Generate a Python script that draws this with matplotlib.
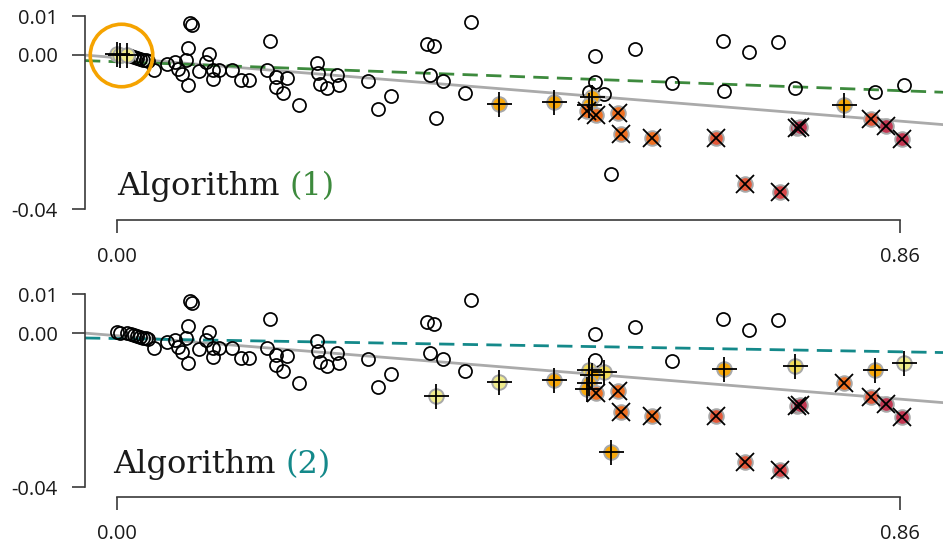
import matplotlib
matplotlib.use("Agg")
import matplotlib.pyplot as plt
import numpy as np

# ---------------- data ----------------
x_vals = [0.000, 0.003, 0.011, 0.015, 0.019, 0.022, 0.025, 0.029, 0.032, 0.034,
          0.041, 0.055, 0.064, 0.067, 0.071, 0.076, 0.078, 0.078, 0.080, 0.082,
          0.090, 0.098, 0.101, 0.106, 0.106, 0.112, 0.126, 0.136, 0.145, 0.165,
          0.168, 0.175, 0.187, 0.175, 0.182, 0.200, 0.220, 0.221, 0.223, 0.231,
          0.242, 0.244, 0.276, 0.287, 0.301, 0.341, 0.348, 0.344, 0.358, 0.351,
          0.382, 0.389, 0.420, 0.480, 0.525, 0.569, 0.519, 0.525, 0.535, 0.522,
          0.519, 0.517, 0.526, 0.550, 0.554, 0.543, 0.588, 0.610, 0.658, 0.666,
          0.667, 0.690, 0.695, 0.726, 0.729, 0.745, 0.747, 0.751, 0.799, 0.829,
          0.833, 0.845, 0.863, 0.865]
y_vals = [0.0003, 0.0000, 0.0000, -0.0003, -0.0005, -0.0008, -0.0010, -0.0013, -0.0013, -0.0016,
          -0.0039, -0.0023, -0.0018, -0.0036, -0.0049, -0.0013, 0.0018, -0.0078, 0.0083, 0.0078,
          -0.0042, -0.0018, 0.0003, -0.0039, -0.0062, -0.0039, -0.0039, -0.0065, -0.0065, -0.0039,
          0.0036, -0.0057, -0.0060, -0.0083, -0.0098, -0.0130, -0.0021, -0.0047, -0.0075, -0.0085,
          -0.0052, -0.0078, -0.0067, -0.0140, -0.0106, 0.0028, 0.0023, -0.0052, -0.0067, -0.0163,
          -0.0098, 0.0086, -0.0127, -0.0122, -0.0003, 0.0016, -0.0096, -0.0070, -0.0101, -0.0109,
          -0.0130, -0.0145, -0.0155, -0.0150, -0.0205, -0.0308, -0.0215, -0.0073, -0.0215, 0.0036,
          -0.0093, -0.0334, 0.0008, 0.0034, -0.0355, -0.0085, -0.0189, -0.0187, -0.0130, -0.0166,
          -0.0096, -0.0184, -0.0218, -0.0078]

# marker class per point: 'o' = not flagged, '+' / 'x' = flagged
marks_alg1 = ['+', '+', '+', 'o', 'o', 'o', 'o', 'o', 'o', 'o',
              'o', 'o', 'o', 'o', 'o', 'o', 'o', 'o', 'o', 'o',
              'o', 'o', 'o', 'o', 'o', 'o', 'o', 'o', 'o', 'o',
              'o', 'o', 'o', 'o', 'o', 'o', 'o', 'o', 'o', 'o',
              'o', 'o', 'o', 'o', 'o', 'o', 'o', 'o', 'o', 'o',
              'o', 'o', '+', '+', 'o', 'o', 'o', 'o', 'o', '+',
              '+', 'x', 'x', 'x', 'x', 'o', 'x', 'o', 'x', 'o',
              'o', 'x', 'o', 'o', 'x', 'o', 'x', 'x', '+', 'x',
              'o', 'x', 'x', 'o']
level_alg1 = [1, 1, 1, 0, 0, 0, 0, 0, 0, 0,
              0, 0, 0, 0, 0, 0, 0, 0, 0, 0,
              0, 0, 0, 0, 0, 0, 0, 0, 0, 0,
              0, 0, 0, 0, 0, 0, 0, 0, 0, 0,
              0, 0, 0, 0, 0, 0, 0, 0, 0, 0,
              0, 0, 3, 3, 0, 0, 0, 0, 0, 3,
              3, 4, 4, 4, 4, 0, 4, 0, 5, 0,
              0, 5, 0, 0, 6, 0, 7, 7, 3, 5,
              0, 7, 7, 0]
marks_alg2 = ['o', 'o', 'o', 'o', 'o', 'o', 'o', 'o', 'o', 'o',
              'o', 'o', 'o', 'o', 'o', 'o', 'o', 'o', 'o', 'o',
              'o', 'o', 'o', 'o', 'o', 'o', 'o', 'o', 'o', 'o',
              'o', 'o', 'o', 'o', 'o', 'o', 'o', 'o', 'o', 'o',
              'o', 'o', 'o', 'o', 'o', 'o', 'o', 'o', 'o', '+',
              'o', 'o', '+', '+', 'o', 'o', '+', 'o', '+', '+',
              '+', '+', 'x', 'x', 'x', '+', 'x', 'o', 'x', 'o',
              '+', 'x', 'o', 'o', 'x', '+', 'x', 'x', 'x', 'x',
              '+', 'x', 'x', '+']
level_alg2 = [0, 0, 0, 0, 0, 0, 0, 0, 0, 0,
              0, 0, 0, 0, 0, 0, 0, 0, 0, 0,
              0, 0, 0, 0, 0, 0, 0, 0, 0, 0,
              0, 0, 0, 0, 0, 0, 0, 0, 0, 0,
              0, 0, 0, 0, 0, 0, 0, 0, 0, 1,
              0, 0, 1, 3, 0, 0, 2, 0, 2, 3,
              3, 3, 4, 4, 4, 3, 4, 0, 5, 0,
              3, 5, 0, 0, 6, 2, 7, 7, 4, 5,
              3, 7, 7, 1]

# fitted lines (intercept, slope)
fit_all = (-0.0007, -0.0191)
fit_alg1 = (-0.00176, -0.0087)
fit_alg2 = (-0.00143, -0.0040)

highlight_center = (0.004, 0.0)

x_ticks = [0.0, 0.86]
x_ticklabels = ["0.00", "0.86"]
y_ticks = [0.01, 0.0, -0.04]
y_ticklabels = ["0.01", "0.00", "-0.04"]

panel_labels = ["(1)", "(2)"]

# ---------------- style ----------------
palette = {1: "#f0ec8c", 2: "#f2dc5a", 3: "#f7a80c", 4: "#f07122",
           5: "#e4593a", 6: "#d9484a", 7: "#c23752"}
label_colors = ["#3d8a3d", "#14898a"]
fit_colors = ["#3d8a3d", "#14898a"]
axis_color = "#3a3a3a"

W, H = 943, 547
fig = plt.figure(figsize=(W / 100, H / 100), dpi=100)

x_arr = np.array(x_vals)
y_arr = np.array(y_vals)

xlim = (-0.0352, 0.9077)
panels = [
    dict(rect=(85 / W, 1 - 220 / H, (W - 85) / W, 215 / H), ylim=(-0.04275, 0.01295),
         marks=marks_alg1, levels=level_alg1, fit=fit_alg1, text_x=0.0),
    dict(rect=(85 / W, 1 - 497 / H, (W - 85) / W, 212 / H), ylim=(-0.04249, 0.01244),
         marks=marks_alg2, levels=level_alg2, fit=fit_alg2, text_x=-0.004),
]

for i, p in enumerate(panels):
    ax = fig.add_axes(p["rect"])
    ax.set_xlim(*xlim)
    ax.set_ylim(*p["ylim"])
    for s in ["top", "right"]:
        ax.spines[s].set_visible(False)
    ax.spines["left"].set_bounds(-0.04, 0.01)
    ax.spines["bottom"].set_bounds(0.0, 0.86)
    for s in ["left", "bottom"]:
        ax.spines[s].set_color(axis_color)
        ax.spines[s].set_linewidth(1.2)
    ax.set_xticks(x_ticks)
    ax.set_xticklabels(x_ticklabels)
    ax.set_yticks(y_ticks)
    ax.set_yticklabels(y_ticklabels)
    ax.tick_params(axis="both", length=9.5, width=1.2, color=axis_color,
                   labelsize=14.5, labelcolor="#1a1a1a")
    ax.tick_params(axis="x", pad=10)
    ax.tick_params(axis="y", pad=10)
    for lab in ax.get_xticklabels() + ax.get_yticklabels():
        lab.set_fontfamily("Open Sans")

    xx = np.array(xlim)
    ax.plot(xx, fit_all[0] + fit_all[1] * xx, color="#aaaaaa", lw=2.0, zorder=1)
    ax.plot(xx, p["fit"][0] + p["fit"][1] * xx, color=fit_colors[i], lw=2.0,
            dashes=(5.5, 3), zorder=2)

    marks = np.array(p["marks"])
    levels = np.array(p["levels"])
    opn = marks == "o"
    ax.plot(x_arr[opn], y_arr[opn], linestyle="none", marker="o", ms=9.4,
            mfc="none", mec="black", mew=1.25, zorder=3, clip_on=False)
    flagged = np.where(~opn)[0]
    for k in flagged:
        ax.plot(x_arr[k], y_arr[k], marker="o", ms=10.5, mfc=palette[int(levels[k])],
                mec="#a8a8a8", mew=1.4, linestyle="none", zorder=4, clip_on=False)
    for k in flagged:
        if marks[k] == "+":
            ax.plot(x_arr[k], y_arr[k], marker="+", ms=18, mec="black", mew=1.3,
                    linestyle="none", zorder=5, clip_on=False)
        else:
            ax.plot(x_arr[k], y_arr[k], marker="x", ms=12.5, mec="black", mew=1.3,
                    linestyle="none", zorder=5, clip_on=False)

    if i == 0:
        ax.plot(*highlight_center, marker="o", ms=45, mfc="none", mec="#f5a300",
                mew=2.6, zorder=6, clip_on=False)

    t1 = ax.text(p["text_x"], -0.0362, "Algorithm", fontsize=23, family="DejaVu Serif",
                 color="#1a1a1a", va="baseline", ha="left")
    ax.annotate(panel_labels[i], xy=(1, 0), xycoords=t1, xytext=(7, 0),
                textcoords="offset points", fontsize=23, family="DejaVu Serif",
                color=label_colors[i], va="bottom", ha="left")

fig.savefig("out.png", dpi=100)
